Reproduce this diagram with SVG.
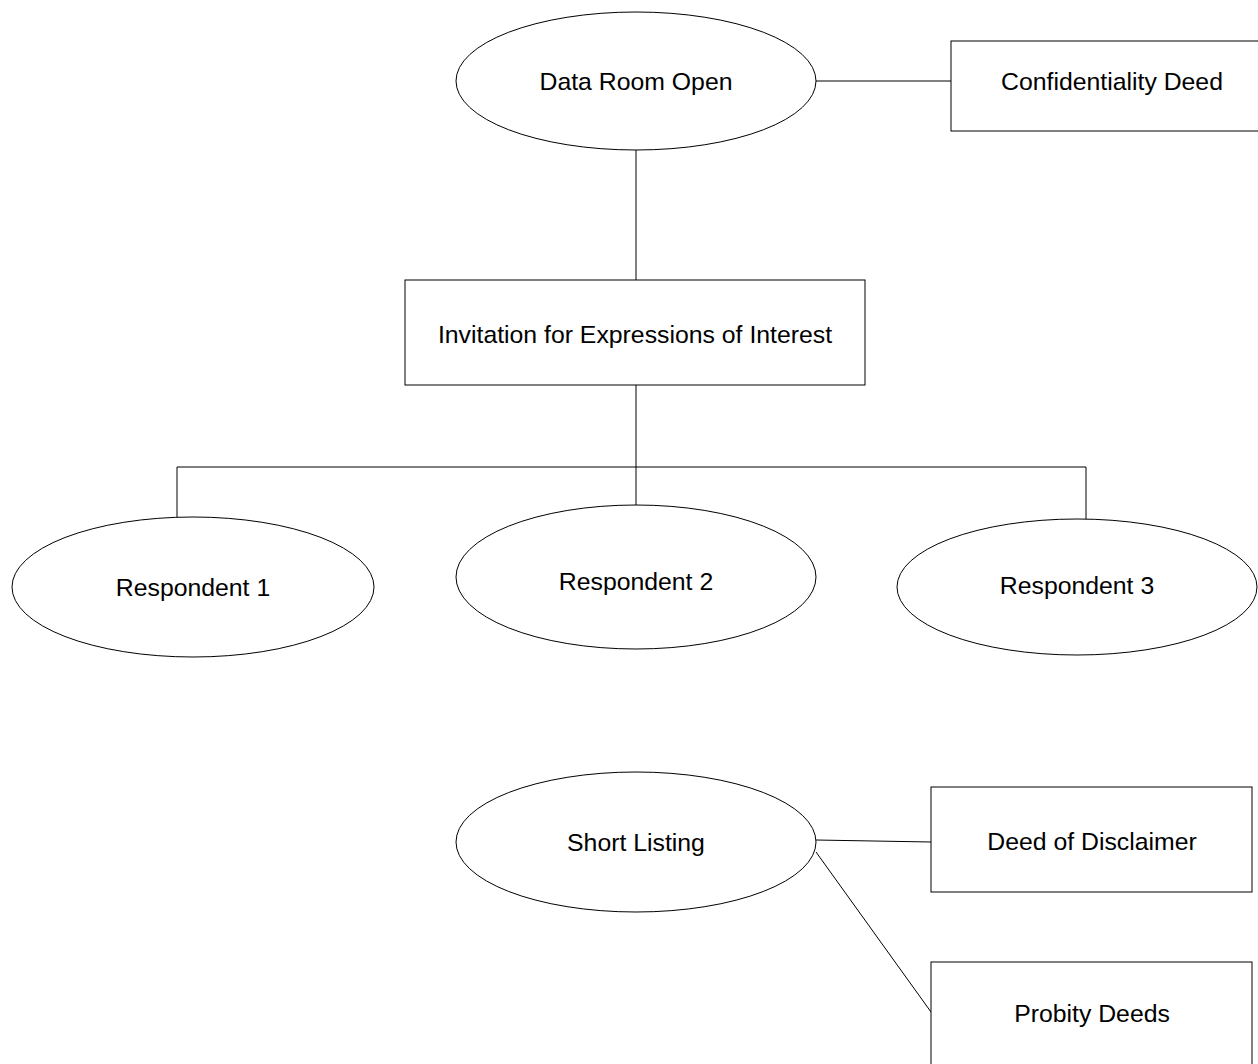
<svg xmlns="http://www.w3.org/2000/svg" width="1258" height="1064" viewBox="0 0 1258 1064">
<style>
.n{fill:#fff;stroke:#000;stroke-width:1}
.t{font-family:"Liberation Sans",Arial,sans-serif;font-size:24.8px;fill:#000;text-anchor:middle;dominant-baseline:central}
.c{stroke:#000;stroke-width:1;fill:none}
</style>
<rect width="1258" height="1064" fill="#fff"/>
<g id="connectors">
<line class="c" x1="816" y1="81" x2="951" y2="81"/>
<line class="c" x1="636" y1="150" x2="636" y2="280"/>
<polyline class="c" points="636,385 636,467"/>
<polyline class="c" points="177,517 177,467 1086,467 1086,520"/>
<line class="c" x1="636" y1="467" x2="636" y2="505"/>
<line class="c" x1="816" y1="840" x2="931" y2="842"/>
<line class="c" x1="816" y1="852" x2="931" y2="1012"/>
</g>
<g id="data-room-open">
<ellipse class="n" cx="636" cy="81" rx="180" ry="69"/>
<text class="t" x="636" y="81">Data Room Open</text>
</g>
<g id="confidentiality-deed">
<rect class="n" x="951" y="41" width="322" height="90"/>
<text class="t" x="1112" y="81">Confidentiality Deed</text>
</g>
<g id="invitation">
<rect class="n" x="405" y="280" width="460" height="105"/>
<text class="t" x="635" y="334">Invitation for Expressions of Interest</text>
</g>
<g id="respondent-1">
<ellipse class="n" cx="193" cy="587" rx="181" ry="70"/>
<text class="t" x="193" y="587">Respondent 1</text>
</g>
<g id="respondent-2">
<ellipse class="n" cx="636" cy="577" rx="180" ry="72"/>
<text class="t" x="636" y="581">Respondent 2</text>
</g>
<g id="respondent-3">
<ellipse class="n" cx="1077" cy="587" rx="180" ry="68"/>
<text class="t" x="1077" y="585">Respondent 3</text>
</g>
<g id="short-listing">
<ellipse class="n" cx="636" cy="842" rx="180" ry="70"/>
<text class="t" x="636" y="842">Short Listing</text>
</g>
<g id="deed-of-disclaimer">
<rect class="n" x="931" y="787" width="321" height="105"/>
<text class="t" x="1092" y="841">Deed of Disclaimer</text>
</g>
<g id="probity-deeds">
<rect class="n" x="931" y="962" width="321" height="110"/>
<text class="t" x="1092" y="1013">Probity Deeds</text>
</g>
</svg>
